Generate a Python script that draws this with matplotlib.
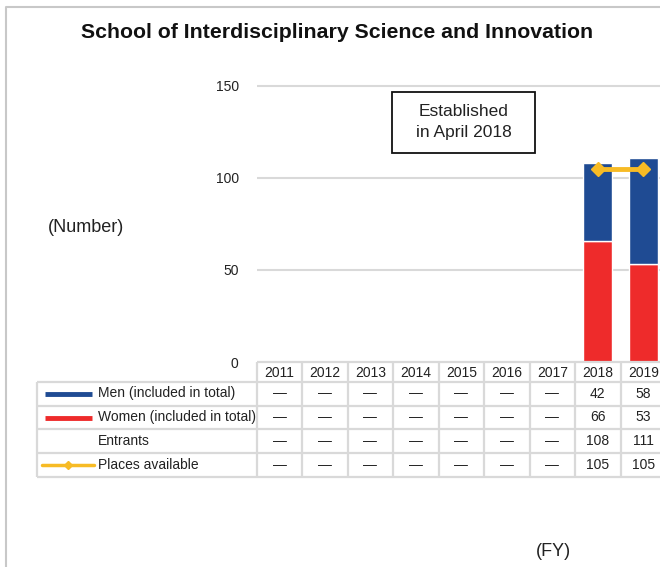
import numpy as np
import matplotlib
matplotlib.use('Agg')
import matplotlib.pyplot as plt

plt.rcParams['font.family'] = ['Liberation Sans', 'DejaVu Sans']

# Data
years = ['2011', '2012', '2013', '2014', '2015', '2016', '2017', '2018', '2019']
men = [None, None, None, None, None, None, None, 42, 58]
women = [None, None, None, None, None, None, None, 66, 53]
entrants = [None, None, None, None, None, None, None, 108, 111]
places = [None, None, None, None, None, None, None, 105, 105]

row_labels = ['Men (included in total)', 'Women (included in total)', 'Entrants', 'Places available']
rows = [men, women, entrants, places]

BLUE = '#1f4b93'
RED = '#ee2b2b'
YELLOW = '#f7bb25'
GRID = '#d9d9d9'

W, H = 660, 567
fig = plt.figure(figsize=(W / 100, H / 100), dpi=100)

# pixel layout
col_left, col_right = 256.7, 666
col_w = (col_right - col_left) / len(years)
y0_px, y150_px = 362, 86
px_per_unit = (y0_px - y150_px) / 150
ytop_val = 160
ax_top_px = y0_px - ytop_val * px_per_unit

ax = fig.add_axes([col_left / W, 1 - y0_px / H, (col_right - col_left) / W, (y0_px - ax_top_px) / H])
x = np.arange(len(years))
ax.set_xlim(-0.5, len(years) - 0.5)
ax.set_ylim(0, ytop_val)

for yv in [50, 100, 150]:
    ax.axhline(yv, color=GRID, lw=1.5, zorder=0)

idx = [i for i, v in enumerate(men) if v is not None]
w_vals = np.array([women[i] for i in idx])
m_vals = np.array([men[i] for i in idx])
ax.bar(idx, w_vals, width=0.63, color=RED, edgecolor='white', lw=1, zorder=2)
ax.bar(idx, m_vals, width=0.63, bottom=w_vals, color=BLUE, edgecolor='white', lw=1, zorder=2)

pidx = [i for i, v in enumerate(places) if v is not None]
ax.plot(pidx, [places[i] for i in pidx], color=YELLOW, lw=3.5, marker='D', ms=7.5,
        markeredgecolor=YELLOW, zorder=3)

ax.set_yticks([0, 50, 100, 150])
ax.tick_params(axis='y', length=0, pad=13, labelsize=10, labelcolor='#222222')
ax.set_xticks([])
for s in ax.spines.values():
    s.set_visible(False)
ax.patch.set_alpha(0)

# Data table below the plot
tab_left, tab_top, tab_bottom = 37, 362, 477.3
x_left = -0.5 - (col_left - tab_left) / col_w
tax = fig.add_axes([tab_left / W, 1 - tab_bottom / H, (col_right - tab_left) / W, (tab_bottom - tab_top) / H])
tax.set_xlim(x_left, len(years) - 0.5)
tax.set_ylim(tab_bottom, tab_top)
tax.axis('off')

def px2x(px):
    return x_left + (px - tab_left) / col_w

row_edges = [381.5, 405.5, 429.4, 453.4, 477.3]
lkw = dict(color=GRID, lw=1.6, clip_on=False, solid_capstyle='butt')
# header row
tax.plot([-0.5, len(years) - 0.5], [tab_top, tab_top], **lkw)
for i in range(len(years) + 1):
    tax.plot([i - 0.5, i - 0.5], [tab_top, row_edges[-1]], **lkw)
for yv in row_edges:
    tax.plot([x_left, len(years) - 0.5], [yv, yv], **lkw)
tax.plot([x_left, x_left], [row_edges[0], row_edges[-1]], **lkw)

for i, yr in enumerate(years):
    tax.text(i, (tab_top + row_edges[0]) / 2 + 1, yr, ha='center', va='center', fontsize=10, color='#222222')

for r, (lab, vals) in enumerate(zip(row_labels, rows)):
    yc = (row_edges[r] + row_edges[r + 1]) / 2
    tax.text(px2x(98), yc, lab, ha='left', va='center', fontsize=10, color='#222222')
    for i, v in enumerate(vals):
        s = '—' if v is None else str(v)
        tax.text(i, yc, s, ha='center', va='center', fontsize=10, color='#222222')

# legend keys
tax.plot([px2x(45), px2x(92)], [393.5, 393.5], color=BLUE, lw=3.5, solid_capstyle='butt')
tax.plot([px2x(45), px2x(92)], [417.5, 417.5], color=RED, lw=3.5, solid_capstyle='butt')
tax.plot([px2x(42), px2x(94)], [465.4, 465.4], color=YELLOW, lw=2.5, solid_capstyle='round')
tax.plot([px2x(68)], [465.4], marker='D', ms=4, color=YELLOW)

# Texts
fig.text(337 / W, 1 - 32 / H, 'School of Interdisciplinary Science and Innovation',
         ha='center', va='center', fontsize=15.3, fontweight='bold', color='#111111')
fig.text(48 / W, 1 - 227 / H, '(Number)', ha='left', va='center', fontsize=13, color='#222222')
fig.text(553 / W, 1 - 551 / H, '(FY)', ha='center', va='center', fontsize=13, color='#222222')

box_ax = fig.add_axes([0, 0, 1, 1])
box_ax.set_xlim(0, W)
box_ax.set_ylim(H, 0)
box_ax.axis('off')
box_ax.add_patch(plt.Rectangle((392, 92), 143, 61, fill=False, ec='#111111', lw=1.3))
box_ax.text(463.5, 112, 'Established', ha='center', va='center', fontsize=12.5, color='#222222')
box_ax.text(463.5, 133, 'in April 2018', ha='center', va='center', fontsize=12.5, color='#222222')
# outer frame
box_ax.plot([6, 6, W + 5], [H + 5, 6.5, 6.5], color='#c8c8c8', lw=1.5, clip_on=False)

fig.savefig('out.png', dpi=100)
